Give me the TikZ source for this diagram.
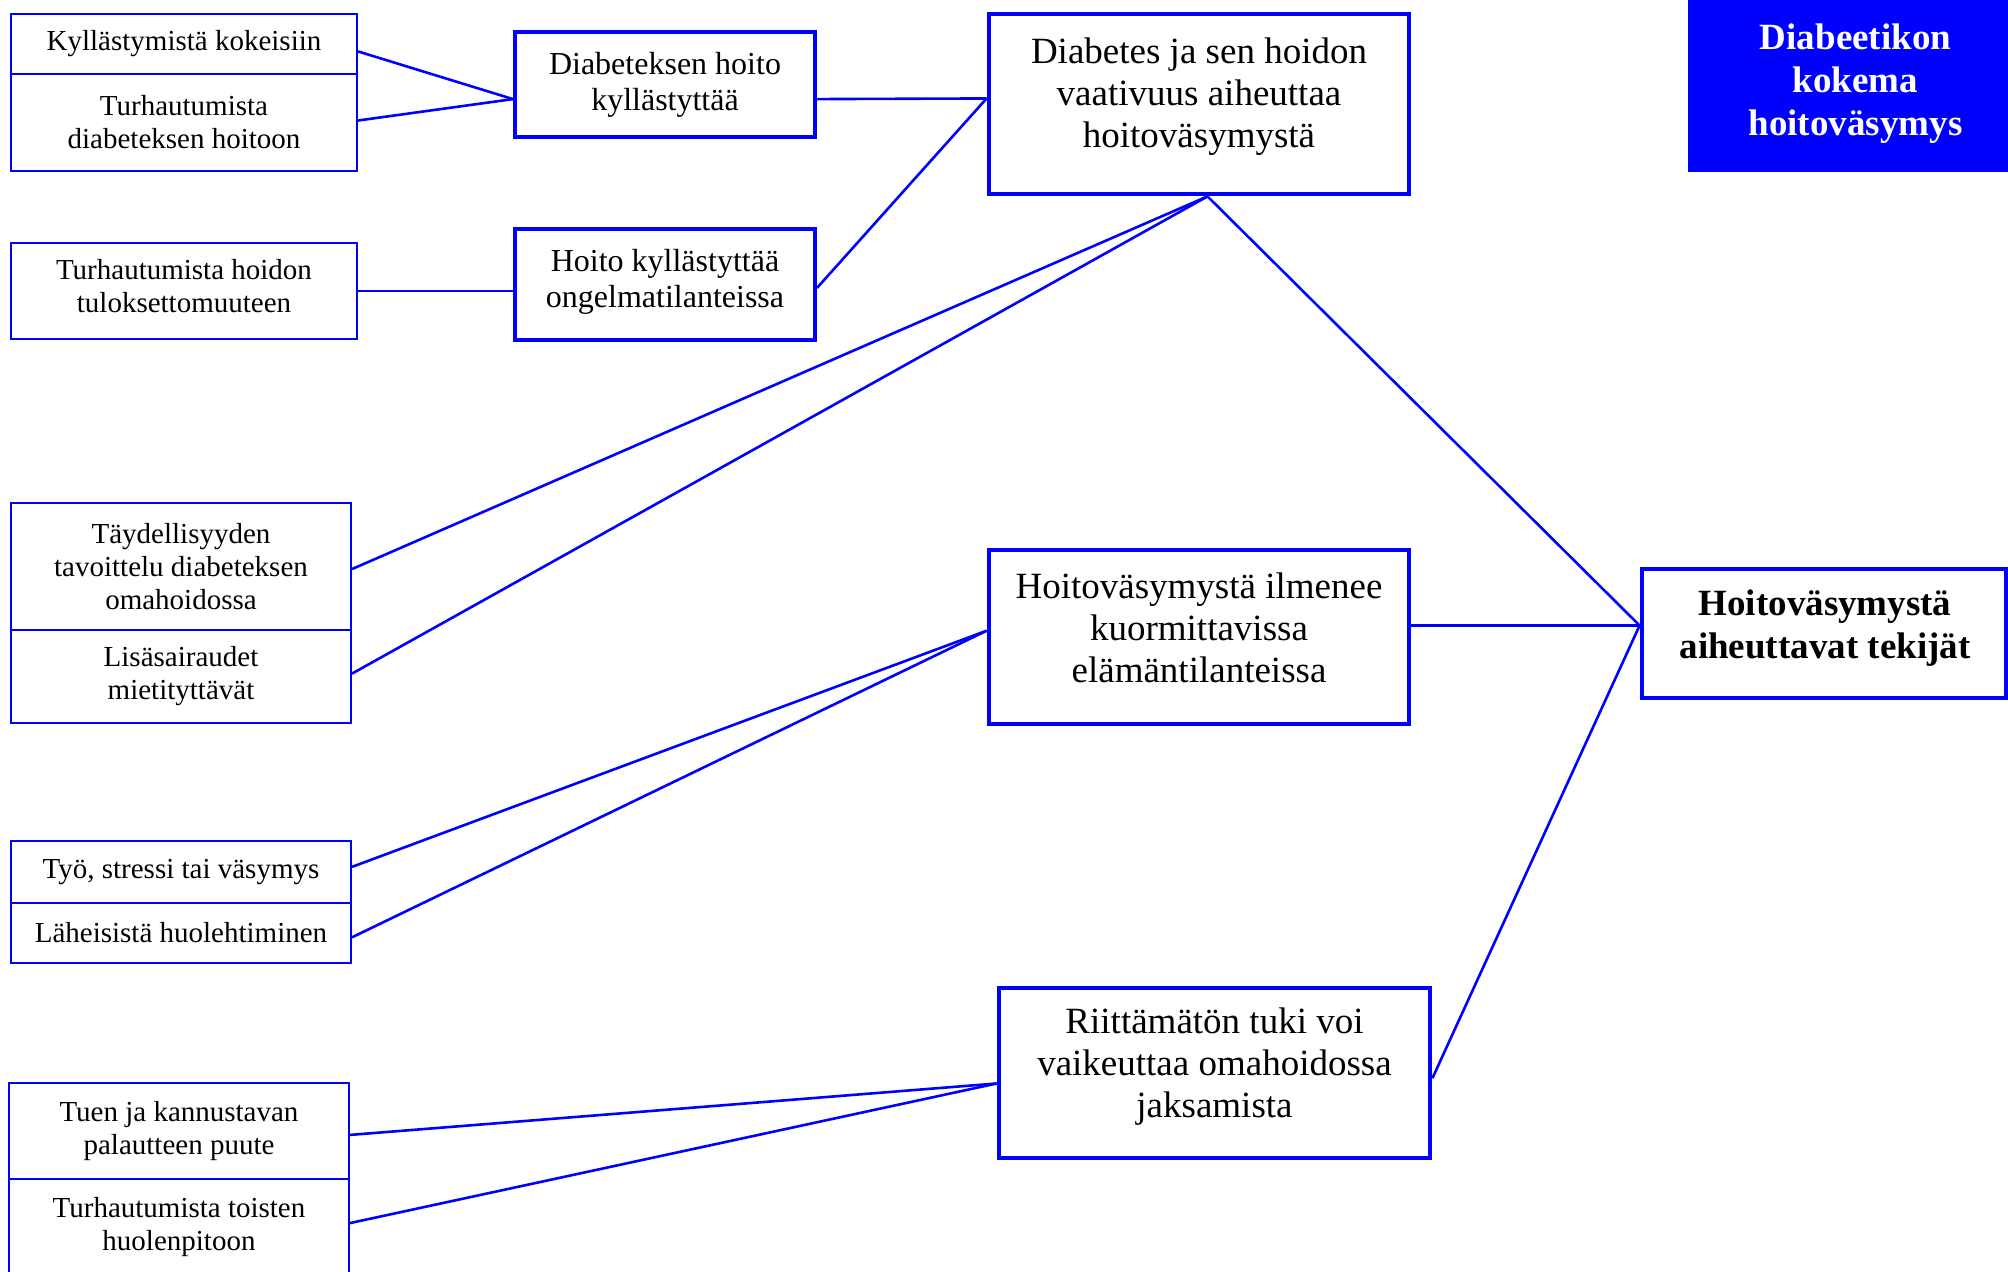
\documentclass[tikz,border=0pt]{standalone}
\usepackage{fontspec}
\setmainfont{Liberation Serif}
\usetikzlibrary{calc}
\definecolor{dblue}{RGB}{0,0,255}
\begin{document}
\begin{tikzpicture}[x=0.5pt,y=-0.5pt,
 smallbox/.style={draw=dblue,line width=1pt,inner sep=0pt,align=center,font=\fontsize{14.5}{16.5}\selectfont},
 midbox/.style={draw=dblue,line width=2pt,inner sep=0pt,align=center,font=\fontsize{16}{18}\selectfont},
 bigbox/.style={draw=dblue,line width=2.4pt,inner sep=0pt},
 bigtxt/.style={align=center,inner sep=0pt,font=\fontsize{18.5}{21}\selectfont},
 boldtxt/.style={align=center,inner sep=0pt,font=\bfseries\fontsize{18.5}{21.5}\selectfont},
 link/.style={draw=dblue,line width=1.3pt}]
\useasboundingbox (0,0) rectangle (2008,1272);
\clip (0,0) rectangle (2008,1272);

\node[smallbox,minimum width=173pt,minimum height=30pt] (A) at (184,44) {Kyllästymistä kokeisiin};
\node[smallbox,minimum width=173pt,minimum height=48.5pt] (B) at (184,122.5) {Turhautumista\\diabeteksen hoitoon};
\node[smallbox,minimum width=173pt,minimum height=48pt,text depth=5pt] (C) at (184,291) {Turhautumista hoidon\\tuloksettomuuteen};
\node[smallbox,minimum width=170pt,minimum height=63.5pt] (T) at (181,566.5) {Täydellisyyden\\tavoittelu diabeteksen\\omahoidossa};
\node[smallbox,minimum width=170pt,minimum height=46.5pt] (L) at (181,676.5) {Lisäsairaudet\\mietityttävät};
\node[smallbox,minimum width=170pt,minimum height=31pt] (W) at (181,872) {Työ, stressi tai väsymys};
\node[smallbox,minimum width=170pt,minimum height=30pt] (H) at (181,933) {Läheisistä huolehtiminen};
\node[smallbox,minimum width=170pt,minimum height=48pt] (S) at (179,1131) {Tuen ja kannustavan\\palautteen puute};
\node[smallbox,minimum width=170pt,minimum height=48pt] (O) at (179,1227) {Turhautumista toisten\\huolenpitoon};

\node[midbox,minimum width=150pt,minimum height=52.5pt] (DH) at (665,84.5) {Diabeteksen hoito\\kyllästyttää};
\node[midbox,minimum width=150pt,minimum height=55.5pt,text depth=6pt] (HK) at (665,284.5) {Hoito kyllästyttää\\ongelmatilanteissa};

\node[bigbox,minimum width=210pt,minimum height=90pt] (G1) at (1199,104) {};
\node[bigtxt] (G1t) at (1199,96.5) {Diabetes ja sen hoidon\\vaativuus aiheuttaa\\hoitoväsymystä};
\node[bigbox,minimum width=210pt,minimum height=87pt] (G2) at (1199,637) {};
\node[bigtxt] (G2t) at (1199,628) {Hoitoväsymystä ilmenee\\kuormittavissa\\elämäntilanteissa};
\node[bigbox,minimum width=215.5pt,minimum height=85pt] (G3) at (1214.5,1073) {};
\node[bigtxt] (G3t) at (1214.5,1067) {Riittämätön tuki voi\\vaikeuttaa omahoidossa\\jaksamista};
\node[bigbox,minimum width=182pt,minimum height=64.5pt] (R) at (1824,633.5) {};
\node[boldtxt] (Rt) at (1825,628.5) {Hoitoväsymystä\\aiheuttavat tekijät};
\node[fill=dblue,minimum width=161pt,minimum height=86pt,inner sep=0pt] (F) at (1849,86) {};
\node[boldtxt,text=white] (Ft) at (1855.5,83.5) {Diabeetikon\\kokema\\hoitoväsymys};

\coordinate (dhin) at ($(DH.north west)!0.634!(DH.south west)$);
\coordinate (g1w) at ($(G1.north west)!0.47!(G1.south west)$);
\draw[link] ($(A.north east)!0.62!(A.south east)$) -- (dhin);
\draw[link] ($(B.north east)!0.48!(B.south east)$) -- (dhin);
\draw[link] ($(DH.north east)!0.634!(DH.south east)$) -- (g1w);
\draw[link] (C.east) -- (C.east -| HK.west);
\draw[link] ($(HK.north east)!0.53!(HK.south east)$) -- (g1w);
\coordinate (g1s) at ($(G1.south west)!0.52!(G1.south east)$);
\coordinate (rin) at ($(R.north west)!0.44!(R.south west)$);
\draw[link] (g1s) -- ($(T.north east)!0.52!(T.south east)$);
\draw[link] (g1s) -- ($(L.north east)!0.47!(L.south east)$);
\draw[link] (g1s) -- (rin);
\draw[link] (rin -| G2.east) -- (rin);
\coordinate (g2w) at ($(G2.north west)!0.465!(G2.south west)$);
\draw[link] (g2w) -- ($(W.north east)!0.42!(W.south east)$);
\draw[link] (g2w) -- ($(H.north east)!0.57!(H.south east)$);
\coordinate (g3w) at ($(G3.north west)!0.56!(G3.south west)$);
\draw[link] (g3w) -- ($(S.north east)!0.54!(S.south east)$);
\draw[link] (g3w) -- ($(O.north east)!0.46!(O.south east)$);
\draw[link] ($(G3.north east)!0.53!(G3.south east)$) -- (rin);
\end{tikzpicture}
\end{document}
